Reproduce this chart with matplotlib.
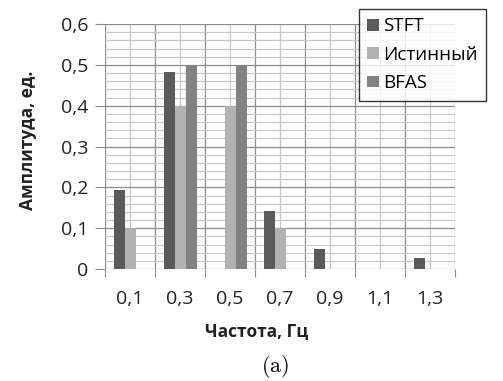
import numpy as np
import matplotlib
matplotlib.use('Agg')
import matplotlib.pyplot as plt
from matplotlib.ticker import MultipleLocator, FixedLocator

plt.rcParams['font.family'] = ['Open Sans', 'DejaVu Sans']
plt.rcParams['mathtext.fontset'] = 'cm'

freqs = ['0,1', '0,3', '0,5', '0,7', '0,9', '1,1', '1,3']
stft = [0.193, 0.483, 0.0, 0.143, 0.049, 0.0, 0.028]
true_vals = [0.1, 0.4, 0.4, 0.1, 0.0, 0.0, 0.0]
bfas = [0.0, 0.5, 0.5, 0.0, 0.0, 0.0, 0.0]
yticks = ['0', '0,1', '0,2', '0,3', '0,4', '0,5', '0,6']

W, H = 503, 381
fig = plt.figure(figsize=(W / 100, H / 100), dpi=100)
ax = fig.add_axes([105 / W, 1 - 269 / H, 350 / W, 245 / H])

x = np.arange(len(freqs))
bw = 0.22
ax.bar(x - bw, stft, bw, color='#5a5a5a', label='STFT', zorder=3)
ax.bar(x, true_vals, bw, color='#b2b2b2', label='Истинный', zorder=3)
ax.bar(x + bw, bfas, bw, color='#828282', label='BFAS', zorder=3)

ax.set_xlim(-0.5, len(freqs) - 0.5)
ax.set_ylim(0, 0.6)

# category boundaries = dark grid, centres = light grid with labels
ax.xaxis.set_major_locator(FixedLocator(np.arange(-0.5, len(freqs), 1.0)))
ax.xaxis.set_minor_locator(FixedLocator(x))
ax.set_xticklabels([''] * (len(freqs) + 1))
ax.set_xticklabels(freqs, minor=True)
ax.yaxis.set_major_locator(MultipleLocator(0.1))
ax.yaxis.set_minor_locator(MultipleLocator(0.02))
ax.set_yticks(np.arange(0, 0.61, 0.1))
ax.set_yticklabels(yticks)

ax.grid(which='major', color='#8c8c8c', lw=0.9, zorder=0)
ax.grid(which='minor', color='#c8c8c8', lw=0.9, zorder=0)
ax.tick_params(axis='x', which='major', length=6, color='#8c8c8c', direction='out')
ax.tick_params(axis='x', which='minor', length=0, pad=15, labelsize=14, colors='#222222')
ax.tick_params(axis='y', which='major', length=7, color='#8c8c8c', pad=5, labelsize=14,
               labelcolor='#222222')
ax.tick_params(axis='y', which='minor', length=0)
for s in ax.spines.values():
    s.set_visible(False)

fig.text(28 / W, 1 - 140 / H, 'Амплитуда, ед.', rotation=90, ha='center', va='center',
         fontsize=12.5, fontweight='bold', color='#222222')
fig.text(257 / W, 1 - 332 / H, 'Частота, Гц', ha='center', va='center',
         fontsize=12.5, fontweight='bold', color='#222222')
fig.text(275 / W, 1 - 366 / H, r'$\mathrm{(a)}$', ha='center', va='center', fontsize=16)

leg = fig.legend(loc='upper left', bbox_to_anchor=(359 / W, 1 - 9 / H), fontsize=13.5,
                 frameon=True, fancybox=False, edgecolor='black', handlelength=0.6,
                 handleheight=0.6, handletextpad=0.25, labelspacing=0.55,
                 borderpad=0.45, borderaxespad=0)
leg.get_frame().set_linewidth(1.0)

plt.savefig('out.png', dpi=100)
